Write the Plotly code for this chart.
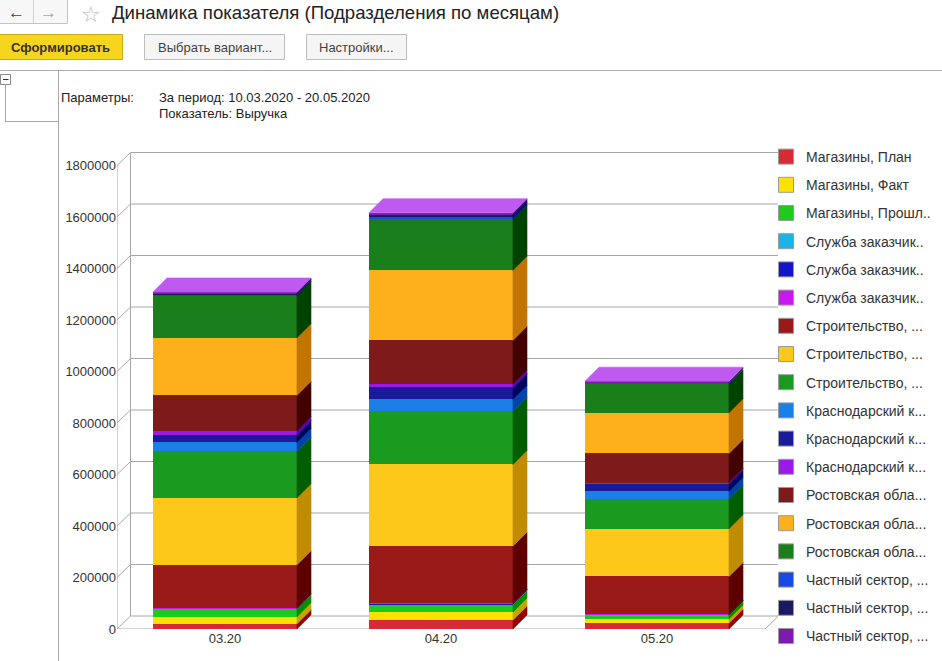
import plotly.graph_objects as go

# ---------------- data ----------------
categories = ["03.20", "04.20", "05.20"]

legend_labels = [
    "Магазины, План", "Магазины, Факт", "Магазины, Прошл..",
    "Служба заказчик..", "Служба заказчик..", "Служба заказчик..",
    "Строительство, ...", "Строительство, ...", "Строительство, ...",
    "Краснодарский к...", "Краснодарский к...", "Краснодарский к...",
    "Ростовская обла...", "Ростовская обла...", "Ростовская обла...",
    "Частный сектор, ...", "Частный сектор, ...", "Частный сектор, ...",
]

magaziny_plan = [20700, 35000, 23000]
magaziny_fakt = [27000, 31000, 15500]
magaziny_prosh = [31000, 29500, 15500]
sluzhba_1 = [1500, 1500, 1200]
sluzhba_2 = [1200, 1200, 1000]
sluzhba_3 = [1000, 1000, 800]
stroit_1 = [167000, 223000, 147000]
stroit_2 = [260000, 317000, 185000]
stroit_3 = [180000, 206000, 115000]
krasnodar_1 = [35000, 46500, 31000]
krasnodar_2 = [30000, 46500, 28500]
krasnodar_3 = [15500, 13000, 5000]
rostov_1 = [137500, 170000, 113500]
rostov_2 = [224000, 272000, 158000]
rostov_3 = [164500, 198000, 112000]
chastny_1 = [5000, 10000, 4000]
chastny_2 = [3000, 6500, 3000]
chastny_3 = [5000, 9000, 3500]

series_values = [
    magaziny_plan, magaziny_fakt, magaziny_prosh,
    sluzhba_1, sluzhba_2, sluzhba_3,
    stroit_1, stroit_2, stroit_3,
    krasnodar_1, krasnodar_2, krasnodar_3,
    rostov_1, rostov_2, rostov_3,
    chastny_1, chastny_2, chastny_3,
]

colors = [
    "#D42B35", "#FFE100", "#1CCB1C",
    "#1AB4E8", "#1414C8", "#C81AF0",
    "#9A1A1A", "#FDC81A", "#1A9A1E",
    "#1A80E6", "#1A1A9A", "#9A1AE6",
    "#7E1A1A", "#FDB01A", "#1A7E1A",
    "#1A4AE6", "#1A1A64", "#7E1AB0",
]

y_ticks = [0, 200000, 400000, 600000, 800000, 1000000, 1200000, 1400000, 1600000, 1800000]

# ---------------- geometry / style ----------------
W, H = 942, 661
ML, MR, MT, MB = 117, 164, 152, 32
PW = W - ML - MR
PH = H - MT - MB
PX_PER_CAT = 216.0
PX_PER_VAL = 257.5e-6
X0 = -0.5
X1 = X0 + PW / PX_PER_CAT
Y1 = PH / PX_PER_VAL
BAR_W = 144.0 / PX_PER_CAT
DX_UNIT = 1.0 / PX_PER_CAT
DY_UNIT = 1.0 / PX_PER_VAL
BAR_DX, BAR_DY = 14 * DX_UNIT, 14 * DY_UNIT
WALL_DX, WALL_DY = 13.5 * DX_UNIT, 13 * DY_UNIT
GRID = "#A6A6A6"
FONT = "Arial, 'Liberation Sans', sans-serif"
TXT = "#333333"


def shade(hexcol, d):
    h = hexcol.lstrip("#")
    rgb = [int(h[i:i + 2], 16) for i in (0, 2, 4)]
    rgb = [max(0, min(255, c + d)) for c in rgb]
    return "#%02X%02X%02X" % tuple(rgb)


def px(xp):
    return (xp - ML) / PW


def py(yp):
    return (H - MB - yp) / PH


fig = go.Figure()
xs = list(range(len(categories)))

# front faces
base = [0.0] * len(categories)
bases = []
for name, vals, col in zip(legend_labels, series_values, colors):
    bases.append(list(base))
    fig.add_trace(go.Bar(
        x=xs, y=vals, base=base, width=BAR_W, name=name,
        marker=dict(color=col, line=dict(width=0)),
        showlegend=False, hoverinfo="skip",
    ))
    base = [b + v for b, v in zip(base, vals)]
totals = base

# side faces
for vals, b0, col in zip(series_values, bases, colors):
    sx, sy = [], []
    for i in xs:
        xr = i + BAR_W / 2
        lo, hi = b0[i], b0[i] + vals[i]
        sx += [xr, xr + BAR_DX, xr + BAR_DX, xr, xr, None]
        sy += [lo, lo + BAR_DY, hi + BAR_DY, hi, lo, None]
    sc = shade(col, -60)
    fig.add_trace(go.Scatter(x=sx, y=sy, mode="lines", fill="toself",
                             fillcolor=sc, line=dict(color=sc, width=0.6),
                             showlegend=False, hoverinfo="skip"))

# top faces
tx, ty = [], []
for i in xs:
    xl, xr = i - BAR_W / 2, i + BAR_W / 2
    t = totals[i]
    tx += [xl, xl + BAR_DX, xr + BAR_DX, xr, xl, None]
    ty += [t, t + BAR_DY, t + BAR_DY, t, t, None]
topc = shade(colors[-1], 64)
fig.add_trace(go.Scatter(x=tx, y=ty, mode="lines", fill="toself", fillcolor=topc,
                         line=dict(color=topc, width=0.6), showlegend=False, hoverinfo="skip"))

# legend entries
for name, col in zip(legend_labels, colors):
    fig.add_trace(go.Scatter(
        x=[None], y=[None], mode="markers", name=name, legendgroup=name + col,
        marker=dict(symbol="square", size=15, color=col, line=dict(color="#9A9A9A", width=1)),
    ))

# back wall, floor and tick connectors (from tick values)
shapes = []
bx0, bx1 = X0 + WALL_DX, X0 + 3 + WALL_DX
for v in y_ticks:
    shapes.append(dict(type="line", xref="x", yref="y", x0=bx0, x1=bx1,
                       y0=v + WALL_DY, y1=v + WALL_DY, line=dict(color=GRID, width=1), layer="below"))
    shapes.append(dict(type="line", xref="x", yref="y", x0=X0, x1=bx0,
                       y0=v, y1=v + WALL_DY, line=dict(color=GRID, width=1), layer="below"))
shapes.append(dict(type="line", xref="x", yref="y", x0=bx0, x1=bx0, y0=WALL_DY,
                   y1=y_ticks[-1] + WALL_DY, line=dict(color=GRID, width=1), layer="below"))
shapes.append(dict(type="line", xref="x", yref="y", x0=bx1, x1=bx1, y0=WALL_DY,
                   y1=y_ticks[-1] + WALL_DY, line=dict(color=GRID, width=1), layer="below"))
shapes.append(dict(type="line", xref="x", yref="y", x0=X0, x1=X0, y0=0,
                   y1=y_ticks[-1], line=dict(color=GRID, width=1), layer="below"))
shapes.append(dict(type="line", xref="x", yref="y", x0=X0, x1=X0 + 3, y0=0,
                   y1=0, line=dict(color=GRID, width=1), layer="below"))
shapes.append(dict(type="line", xref="x", yref="y", x0=X0 + 3, x1=bx1, y0=0,
                   y1=WALL_DY, line=dict(color=GRID, width=1), layer="below"))

# ---------------- window chrome ----------------
def rect(x0, y0, x1, y1, fill, line, lw=1):
    return dict(type="rect", xref="paper", yref="paper", x0=px(x0), x1=px(x1),
                y0=py(y1), y1=py(y0), fillcolor=fill, line=dict(color=line, width=lw), layer="above")


def hline(x0, x1, y, col, lw=1):
    return dict(type="line", xref="paper", yref="paper", x0=px(x0), x1=px(x1),
                y0=py(y), y1=py(y), line=dict(color=col, width=lw))


def vline(x, y0, y1, col, lw=1):
    return dict(type="line", xref="paper", yref="paper", x0=px(x), x1=px(x),
                y0=py(y0), y1=py(y1), line=dict(color=col, width=lw))


shapes += [
    rect(-2, -1, 67.5, 23.5, "#F7F7F7", "#C4C4C4"),
    vline(33.5, 0, 23, "#D0D0D0"),
    rect(-2, 34.5, 122.5, 59.5, "#F6D51E", "#C9AA10"),
    rect(144.5, 34.5, 284.5, 59.5, "#F5F5F5", "#BDBDBD"),
    rect(306.5, 34.5, 406.5, 59.5, "#F5F5F5", "#BDBDBD"),
    hline(0, W, 70.5, "#AFAFAF"),
    vline(58.5, 70, H, "#A8A8A8"),
    rect(0.5, 74.5, 10.5, 84.5, "#FFFFFF", "#8A8A8A"),
    hline(3, 8.5, 79.5, "#333333"),
    vline(5.5, 84.5, 121.5, "#A8A8A8"),
    hline(5, 58.5, 121.5, "#A8A8A8"),
]


def ann(x, y, text, size=13, color=TXT, xanchor="left", bold=False):
    return dict(xref="paper", yref="paper", x=px(x), y=py(y), text=("<b>%s</b>" % text) if bold else text,
                showarrow=False, xanchor=xanchor, yanchor="middle",
                font=dict(family=FONT, size=size, color=color))


annotations = [
    ann(16, 12, "←", 17, "#444444", "center", bold=True),
    ann(48, 12, "→", 17, "#A8A8A8", "center", bold=True),
    ann(91, 14, "☆", 22, "#B8B8B8", "center"),
    ann(110, 13, "Динамика показателя (Подразделения по месяцам)", 18.6, "#222222"),
    ann(60, 47, "Сформировать", 13, "#333333", "center", bold=True),
    ann(214.5, 47, "Выбрать вариант...", 13, "#444444", "center"),
    ann(356.5, 47, "Настройки...", 13, "#444444", "center"),
    ann(59, 97, "Параметры:", 13, "#222222"),
    ann(157, 97, "За период: 10.03.2020 - 20.05.2020", 13, "#222222"),
    ann(157, 114, "Показатель: Выручка", 13, "#222222"),
]

fig.update_layout(
    width=W, height=H,
    margin=dict(l=ML, r=MR, t=MT, b=MB, pad=0, autoexpand=False),
    paper_bgcolor="white", plot_bgcolor="white",
    barmode="overlay", bargap=0,
    font=dict(family=FONT, size=13, color=TXT),
    xaxis=dict(range=[X0, X1], tickvals=xs, ticktext=categories, showgrid=False,
               zeroline=False, showline=False, ticks="", fixedrange=True,
               tickfont=dict(size=13, color=TXT)),
    yaxis=dict(range=[0, Y1], tickvals=y_ticks, ticktext=[str(v) for v in y_ticks],
               showgrid=False, zeroline=False, showline=False, ticks="",
               tickfont=dict(size=13, color=TXT), fixedrange=True),
    legend=dict(xref="container", yref="container", x=766 / W, y=1 - 141 / H,
                xanchor="left", yanchor="top", itemsizing="trace", tracegroupgap=7,
                font=dict(family=FONT, size=14, color=TXT), bgcolor="rgba(0,0,0,0)",
                borderwidth=0, maxheight=600),
    shapes=shapes,
    annotations=annotations,
    showlegend=True,
)

fig.write_html("out.html")
